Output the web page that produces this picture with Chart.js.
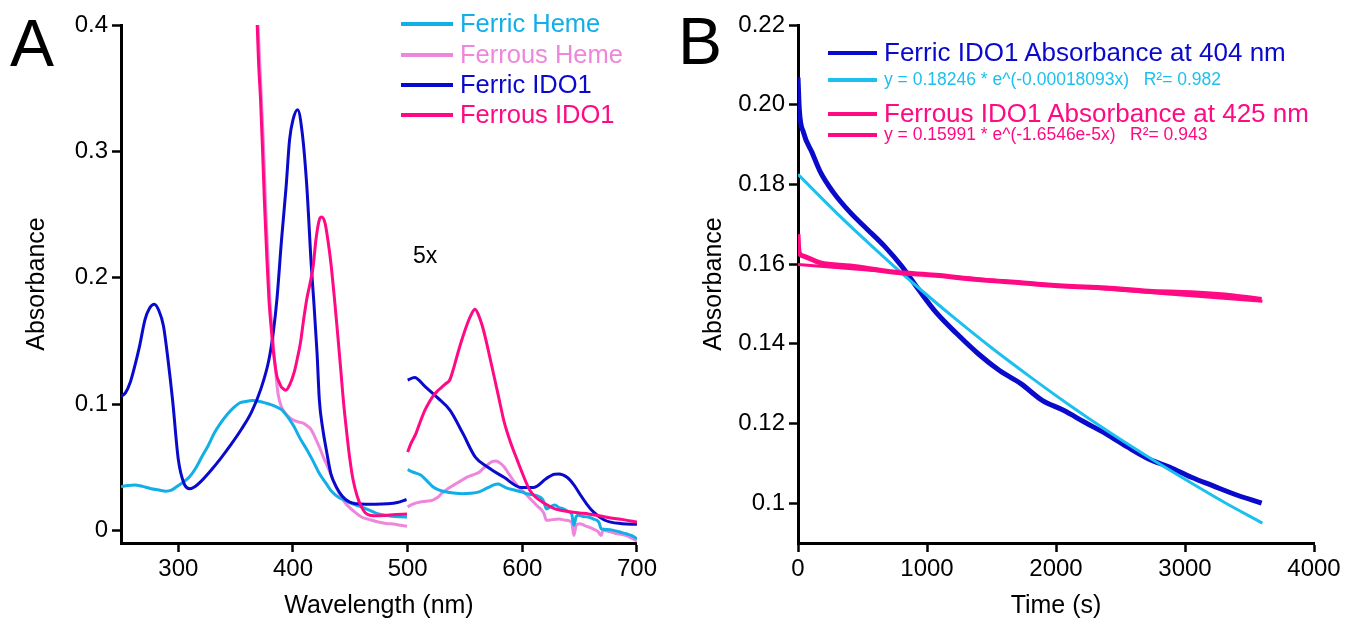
<!DOCTYPE html>
<html>
<head>
<meta charset="utf-8">
<script src="https://cdn.jsdelivr.net/npm/chart.js@4/dist/chart.umd.min.js"></script>
<style>
    body { margin: 0; background: #fff; font-family: "Liberation Sans", Arial, sans-serif; }
    #page { position: relative; width: 1349px; height: 621px; overflow: hidden; }
    .box { position: absolute; top: 0; height: 621px; }
    .lbl { position: absolute; white-space: pre; line-height: 1; }
    .sw { position: absolute; height: 4px; }
    .big { font-size: 66px; color: #000; }
</style>
</head>
<body>
<div id="page">
    <div class="box" style="left:0;width:660px"><canvas id="chartA"></canvas></div>
    <div class="box" style="left:680px;width:669px"><canvas id="chartB"></canvas></div>

    <div class="lbl big" style="left:10px;top:10px">A</div>
    <div class="lbl big" style="left:678px;top:8px">B</div>
    <div class="lbl" style="left:413px;top:244px;font-size:23px">5x</div>

    <!-- legend A -->
    <div class="sw" style="left:401px;top:22px;width:52px;background:#12AEE8"></div>
    <div class="lbl" style="left:460px;top:11px;font-size:25.5px;color:#12AEE8">Ferric Heme</div>
    <div class="sw" style="left:401px;top:53px;width:52px;background:#EE86DC"></div>
    <div class="lbl" style="left:460px;top:42px;font-size:25.5px;color:#EE86DC">Ferrous Heme</div>
    <div class="sw" style="left:401px;top:83px;width:52px;background:#0A0ACC"></div>
    <div class="lbl" style="left:460px;top:72px;font-size:25.5px;color:#0A0ACC">Ferric IDO1</div>
    <div class="sw" style="left:401px;top:113px;width:52px;background:#FF0A84"></div>
    <div class="lbl" style="left:460px;top:102px;font-size:25.5px;color:#FF0A84">Ferrous IDO1</div>

    <!-- legend B -->
    <div class="sw" style="left:828px;top:51px;width:49px;background:#0A0ACC"></div>
    <div class="lbl" style="left:884px;top:39px;font-size:26px;color:#0A0ACC">Ferric IDO1 Absorbance at 404 nm</div>
    <div class="sw" style="left:828px;top:78px;width:49px;background:#1CC0EE"></div>
    <div class="lbl" style="left:884px;top:71px;font-size:17.5px;color:#1CC0EE">y = 0.18246 * e^(-0.00018093x)   R²= 0.982</div>
    <div class="sw" style="left:828px;top:112px;width:49px;background:#FF0A84"></div>
    <div class="lbl" style="left:884px;top:100px;font-size:26px;color:#FF0A84">Ferrous IDO1 Absorbance at 425 nm</div>
    <div class="sw" style="left:828px;top:133px;width:49px;background:#FF0A84"></div>
    <div class="lbl" style="left:884px;top:126px;font-size:17.5px;color:#FF0A84">y = 0.15991 * e^(-1.6546e-5x)   R²= 0.943</div>
</div>

<script>
// ---- Panel A : spectra (two segments each, 250-500 and 500-700 at 5x) ----
let ferricIdoX1 = [250,254,258,262,266,271,275,279,283,287,291,295,300,305,310,315,320,328,337,346,355,364,372,379,383,386,390,394,397,400,404,408,412,416,418,421,423,426,429,433,438,443,449,456,463,472,482,491,499];
let ferricIdoY1 = [0.106,0.109,0.117,0.13,0.145,0.167,0.176,0.179,0.174,0.162,0.135,0.103,0.056,0.037,0.033,0.035,0.039,0.047,0.057,0.068,0.080,0.094,0.112,0.135,0.158,0.183,0.23,0.272,0.309,0.325,0.333,0.315,0.273,0.209,0.183,0.14,0.103,0.08,0.064,0.045,0.034,0.027,0.0225,0.021,0.0207,0.0207,0.021,0.022,0.0244];
let ferricIdoX2 = [500,506,515,526,537,548,559,570,584,599,610,621,628,632,639,645,650,656,662,672,687,700];
let ferricIdoY2 = [0.119,0.121,0.114,0.105,0.095,0.077,0.058,0.050,0.042,0.034,0.034,0.041,0.0445,0.0446,0.042,0.036,0.029,0.021,0.0146,0.008,0.0053,0.0048];

let ferrousIdoX1 = [368.8,370,371.7,373.5,375,377,379,381,382.7,384.5,386,388,389.8,391.7,393.7,397,401,404,406.6,409,412,415,417.6,420,423,425,428,430.4,433,436,438.5,441.4,444,446.9,449.5,452.4,456,459.7,463,467,474,481.7,490,499.4];
let ferrousIdoY1 = [0.4,0.37,0.341,0.30,0.262,0.22,0.183,0.16,0.143,0.13,0.122,0.117,0.1135,0.112,0.111,0.115,0.125,0.137,0.149,0.165,0.183,0.196,0.209,0.23,0.246,0.248,0.243,0.230,0.212,0.185,0.16,0.13,0.102,0.077,0.057,0.040,0.027,0.0186,0.014,0.012,0.0115,0.012,0.0125,0.013];
let ferrousIdoX2 = [500,503,507.4,511,515,518.5,522,525.7,529.4,533,536.7,540,544,547.7,551.4,555,558.7,562,566,569.7,573.4,579,584.4,590,595.4,601,606.4,612,617.4,623,628.4,636,643,650,657.7,667,676,688,700];
let ferrousIdoY2 = [0.062,0.069,0.077,0.086,0.095,0.101,0.106,0.110,0.113,0.116,0.119,0.128,0.141,0.152,0.162,0.170,0.175,0.170,0.159,0.145,0.13,0.107,0.085,0.069,0.056,0.043,0.032,0.026,0.0225,0.0195,0.017,0.0155,0.0146,0.0138,0.013,0.0115,0.010,0.0085,0.0066];

let ferricHemeX1 = [250,256,261.7,269,276.4,283,289,294,298.4,304,309.4,315,320.4,326,331.4,337,342.4,348,353.4,359,364.4,372,379,385,390,396,401,406,412,418,423,429,434,440,445,452,459.7,467,474.4,482,489,494,499.4];
let ferricHemeY1 = [0.0345,0.0355,0.036,0.0348,0.033,0.032,0.031,0.0318,0.0345,0.038,0.042,0.049,0.058,0.067,0.077,0.085,0.0915,0.097,0.1008,0.102,0.1027,0.1018,0.100,0.098,0.0955,0.089,0.082,0.073,0.064,0.054,0.045,0.037,0.0305,0.026,0.024,0.021,0.0186,0.0158,0.013,0.0118,0.011,0.0108,0.0106];
let ferricHemeX2 = [500,505,511,516,522,527,533,540,547.8,555,562.4,567,571.6,575,579,583,588,593,599,604,610,614,617.4,619,621,625,628.4,632,635.7,640,643,645,647,648.7,653,657.7,662,665,667,668.7,674,679.7,685,690.7,695,700];
let ferricHemeY2 = [0.048,0.046,0.044,0.040,0.0345,0.032,0.0305,0.0295,0.029,0.0293,0.0305,0.0325,0.0345,0.036,0.0366,0.035,0.033,0.032,0.0305,0.029,0.028,0.027,0.025,0.022,0.017,0.019,0.020,0.018,0.017,0.015,0.013,0.004,0.011,0.012,0.011,0.0106,0.009,0.008,0.006,0.0013,0.0007,0,-0.0013,-0.0027,-0.004,-0.0066];

let ferrousHemeX1 = [369.5,371,372.5,374.5,376,378,380,382,383.5,385.5,387,389.8,393,397.4,401,404,408.4,412,415.7,419,423,426.5,430.4,434,437.7,441,444.5,448.7,454,459.7,467,474.4,481,489,494,499.4];
let ferrousHemeY1 = [0.4,0.37,0.34,0.30,0.26,0.22,0.18,0.158,0.14,0.12,0.108,0.098,0.093,0.089,0.087,0.086,0.085,0.083,0.080,0.074,0.066,0.058,0.050,0.042,0.034,0.028,0.023,0.0186,0.0145,0.0106,0.0085,0.0066,0.0055,0.0048,0.004,0.0032];
let ferrousHemeX2 = [500,505,511,516,522,526,529.4,535,540.4,546,551.4,557,562.4,566,569.8,573.5,577,581,584.4,588,591.8,597,602.8,608,613.8,617,619,621,626,632,638,643,645,647,650,654,657.7,662,666,668.7,670.4,676,683,690,695,700];
let ferrousHemeY2 = [0.0186,0.021,0.0225,0.023,0.024,0.026,0.029,0.033,0.036,0.039,0.042,0.044,0.046,0.049,0.052,0.0545,0.055,0.053,0.050,0.045,0.040,0.034,0.029,0.024,0.0186,0.016,0.013,0.008,0.0085,0.009,0.008,0.0066,-0.004,0.004,0.0053,0.004,0.0027,0.001,-0.001,-0.004,0,-0.001,-0.0027,-0.004,-0.006,-0.0085];

let tickXA = [300, 400, 500, 600, 700];
let tickYA = [0, 0.1, 0.2, 0.3, 0.4];
let tickYALabels = ["0", "0.1", "0.2", "0.3", "0.4"];

// ---- Panel B : kinetics ----
let ferricT = [0,10,43,109,175,274,406,538,670,803,935,1067,1232,1397,1562,1727,1893,2058,2223,2388,2553,2718,2883,3049,3214,3379,3594];
let ferricA = [0.2068,0.1988,0.193,0.188,0.183,0.178,0.1729,0.1687,0.1645,0.1595,0.1536,0.148,0.1425,0.1375,0.1333,0.130,0.1258,0.1233,0.1203,0.1174,0.1141,0.1111,0.109,0.1065,0.1044,0.1023,0.1];
let ferricFitT = [0,300,600,900,1200,1500,1800,2100,2400,2700,3000,3300,3600];
let ferricFitA = [0.1825,0.1728,0.1637,0.1550,0.1468,0.1390,0.1317,0.1247,0.1181,0.1119,0.1060,0.1003,0.0950];
let ferrousT = [0,5,10,43,175,406,736,1067,1397,1727,2058,2388,2718,3049,3379,3594];
let ferrousA = [0.1675,0.164,0.1628,0.162,0.1603,0.1595,0.158,0.1572,0.1561,0.1553,0.1545,0.154,0.1532,0.1528,0.152,0.1511];
let ferrousFitT = [0,1200,2400,3600];
let ferrousFitA = [0.1599,0.1568,0.1537,0.1507];

let tickXB = [0, 1000, 2000, 3000, 4000];
let tickYB = [0.1, 0.12, 0.14, 0.16, 0.18, 0.2, 0.22];
let tickYBLabels = ["0.1", "0.12", "0.14", "0.16", "0.18", "0.20", "0.22"];

const FONT = "'Liberation Sans', Arial, sans-serif";

function pts(xs, ys) {
    return xs.map((x, i) => ({ x: x, y: ys[i] }));
}

function line(xs, ys, color, width) {
    return {
        data: pts(xs, ys),
        borderColor: color,
        borderWidth: width,
        pointRadius: 0,
        fill: false,
        cubicInterpolationMode: "monotone"
    };
}

function axis(min, max, ticks, labels, title, titlePad, fit, isY) {
    return {
        type: "linear",
        min: min,
        max: max,
        afterBuildTicks: s => { s.ticks = ticks.map(v => ({ value: v })); },
        afterFit: s => { if (isY) s.width = fit; else s.height = fit; },
        border: { display: true, color: "#000", width: 3 },
        grid: { drawOnChartArea: false, drawTicks: true, tickLength: 9, tickWidth: 2.5, tickColor: "#000" },
        ticks: {
            color: "#000",
            padding: isY ? 4 : 3,
            font: { family: FONT, size: 24 },
            maxRotation: 0,
            callback: (v) => {
                let i = ticks.indexOf(v);
                return labels ? labels[i] : String(v);
            }
        },
        title: {
            display: true,
            text: title,
            color: "#000",
            font: { family: FONT, size: 25 },
            padding: titlePad
        }
    };
}

function baseOptions(xAxis, yAxis, pad) {
    return {
        responsive: true,
        maintainAspectRatio: false,
        animation: false,
        layout: { padding: pad },
        plugins: { legend: { display: false }, tooltip: { enabled: false } },
        scales: { x: xAxis, y: yAxis }
    };
}

// 🔹 Panel A (first dataset is drawn on top)
new Chart(document.getElementById("chartA"), {
    type: "line",
    data: {
        datasets: [
            line(ferrousIdoX1, ferrousIdoY1, "#FF0A84", 3),
            line(ferrousIdoX2, ferrousIdoY2, "#FF0A84", 3),
            line(ferricIdoX1, ferricIdoY1, "#0A0ACC", 3),
            line(ferricIdoX2, ferricIdoY2, "#0A0ACC", 3),
            line(ferricHemeX1, ferricHemeY1, "#12AEE8", 3),
            line(ferricHemeX2, ferricHemeY2, "#12AEE8", 3),
            line(ferrousHemeX1, ferrousHemeY1, "#EE86DC", 3),
            line(ferrousHemeX2, ferrousHemeY2, "#EE86DC", 3)
        ]
    },
    options: baseOptions(
        axis(250, 700, tickXA, null, "Wavelength (nm)", { top: 0, bottom: 0 }, 78, false),
        axis(-0.01, 0.4, tickYA, tickYALabels, "Absorbance", { top: 22, bottom: 0 }, 121, true),
        { left: 0, right: 22.5, top: 25, bottom: 0 }
    )
});

// 🔹 Panel B
new Chart(document.getElementById("chartB"), {
    type: "line",
    data: {
        datasets: [
            line(ferrousFitT, ferrousFitA, "#FF0A84", 3),
            line(ferrousT, ferrousA, "#FF0A84", 5),
            line(ferricFitT, ferricFitA, "#1CC0EE", 3),
            line(ferricT, ferricA, "#0A0ACC", 5)
        ]
    },
    options: baseOptions(
        axis(0, 4000, tickXB, null, "Time (s)", { top: 0, bottom: 0 }, 78, false),
        axis(0.09, 0.22, tickYB, tickYBLabels, "Absorbance", { top: 19, bottom: 0 }, 118, true),
        { left: 0, right: 35, top: 25, bottom: 0 }
    )
});
</script>
</body>
</html>
